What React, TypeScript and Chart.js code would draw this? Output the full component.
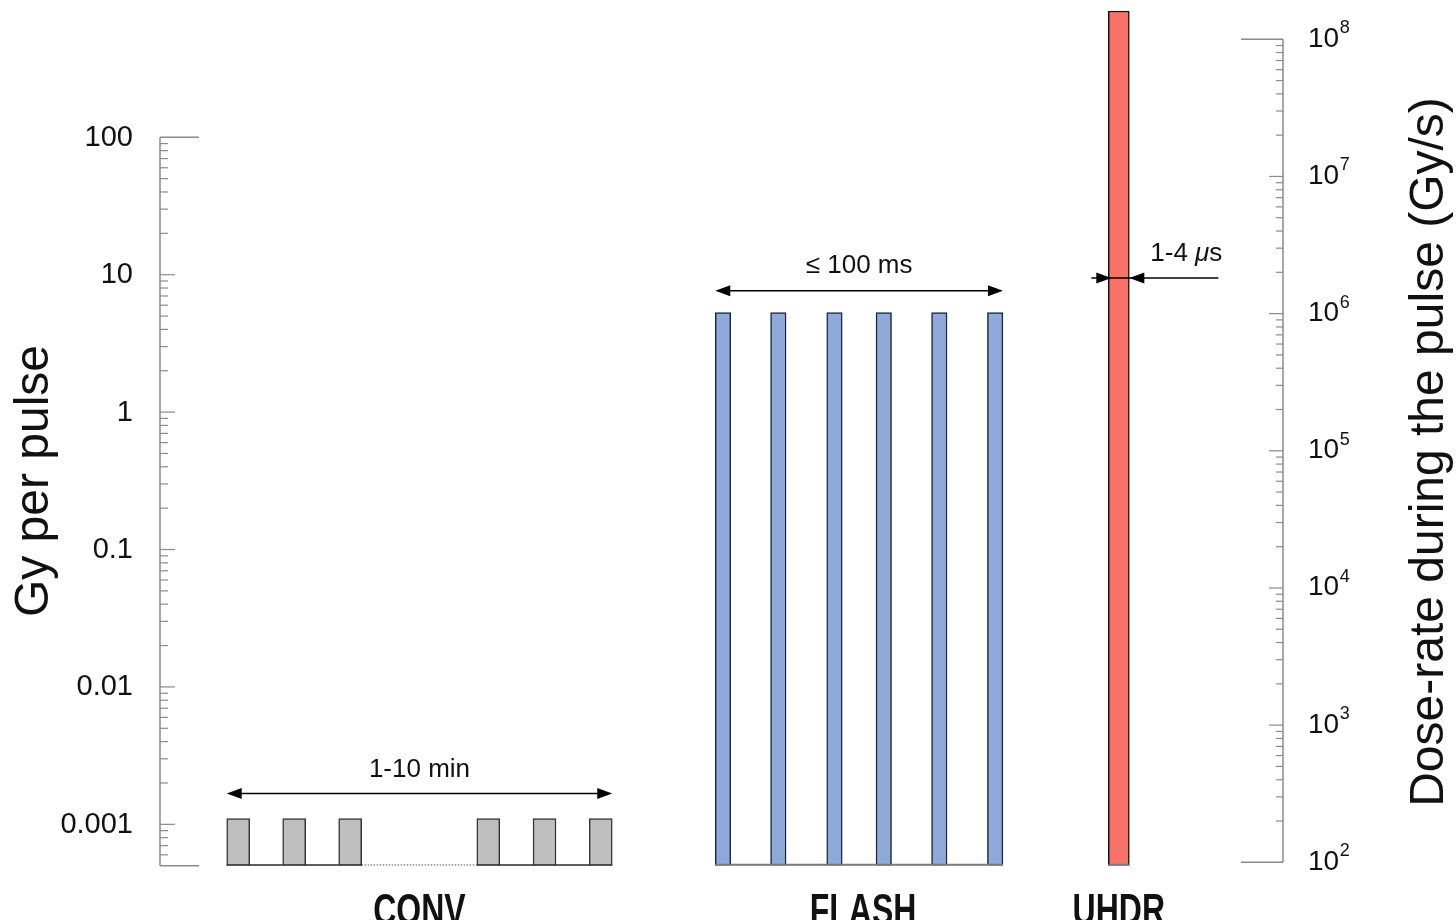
import React, { useEffect, useRef } from 'react';
import { Chart, registerables } from 'chart.js';

Chart.register(...registerables);

// ---- data ----
const categories = ['CONV', 'FLASH', 'UHDR'];
// pulse positions along the (schematic) time axis, in pulse-slot units
const convPositions = [1.393, 2.39, 3.387, 5.847, 6.848, 7.849];
const convDose = [0.0011, 0.0011, 0.0011, 0.0011, 0.0011, 0.0011];
const flashPositions = [10.027, 11.012, 12.012, 12.89, 13.879, 14.874];
const flashDose = [5.3, 5.3, 5.3, 5.3, 5.3, 5.3];
const uhdrPositions = [17.076];
const uhdrDose = [830];

// axes
const leftTickValues = [0.001, 0.01, 0.1, 1, 10, 100];
const leftTickLabels = ['0.001', '0.01', '0.1', '1', '10', '100'];
const rightTickExponents = [2, 3, 4, 5, 6, 7, 8];
const leftTitle = 'Gy per pulse';
const rightTitle = 'Dose-rate during the pulse (Gy/s)';

// annotations (duration spans)
const spanLabels = ['1-10 min', '≤ 100 ms'];
const spanArrowDose = [0.00168, 7.65];
const spanTextDose = [0.00222, 10.3];
const pulseWidthParts = ['1-4 ', 'μ', 's'];
const pulseWidthArrowDose = 9.46;
const pulseWidthTextDose = 12.5;

const FONT = '"Liberation Sans", Arial, Helvetica, sans-serif';

function line(ctx: CanvasRenderingContext2D, x1: number, y1: number, x2: number, y2: number) {
  ctx.beginPath();
  ctx.moveTo(x1, y1);
  ctx.lineTo(x2, y2);
  ctx.stroke();
}

function arrowHead(ctx: CanvasRenderingContext2D, tipX: number, y: number, dir: number) {
  // dir = -1 points left, +1 points right
  const len = 15;
  const half = 5.5;
  ctx.beginPath();
  ctx.moveTo(tipX, y);
  ctx.lineTo(tipX - dir * len, y - half);
  ctx.lineTo(tipX - dir * len, y + half);
  ctx.closePath();
  ctx.fill();
}

function groupExtent(chart: any, idx: number) {
  const bars = chart.getDatasetMeta(idx).data as any[];
  const first = bars[0];
  const last = bars[bars.length - 1];
  return {
    bars,
    left: first.x - first.width / 2,
    right: last.x + last.width / 2,
    base: first.base,
  };
}

const overlay = {
  id: 'overlay',
  afterDatasetsDraw(chart: any) {
    const ctx: CanvasRenderingContext2D = chart.ctx;
    const xs = chart.scales.x;
    const ys = chart.scales.y;
    const yr = chart.scales.y1;
    ctx.save();

    // ---- baselines under pulse trains ----
    const conv = groupExtent(chart, 0);
    const by = conv.base - 0.75;
    const spacings: number[] = [];
    for (let i = 1; i < conv.bars.length; i++) spacings.push(conv.bars[i].x - conv.bars[i - 1].x);
    const minSp = Math.min(...spacings);
    for (let i = 0; i < conv.bars.length; i++) {
      const b = conv.bars[i];
      ctx.strokeStyle = '#2a2a2a';
      ctx.lineWidth = 1.5;
      ctx.setLineDash([]);
      line(ctx, b.x - b.width / 2, by, b.x + b.width / 2, by);
      if (i < conv.bars.length - 1) {
        const n = conv.bars[i + 1];
        const x1 = b.x + b.width / 2;
        const x2 = n.x - n.width / 2;
        if (n.x - b.x > minSp * 1.5) {
          ctx.strokeStyle = '#555';
          ctx.lineWidth = 1;
          ctx.setLineDash([1.5, 1.5]);
        }
        line(ctx, x1, by, x2, by);
      }
    }
    ctx.setLineDash([]);
    for (const idx of [1, 2]) {
      const g = groupExtent(chart, idx);
      ctx.strokeStyle = '#7a7a7a';
      ctx.lineWidth = 2;
      line(ctx, g.left, g.base - 1, g.right, g.base - 1);
    }

    // ---- left axis ----
    const ax = xs.left;
    const lTop = ys.getPixelForValue(100);
    const lBot = ys.getPixelForValue(ys.min);
    ctx.strokeStyle = '#8a8a8a';
    ctx.lineWidth = 1.5;
    line(ctx, ax, lTop, ax, lBot);
    line(ctx, ax, lTop, ax + 39, lTop);
    line(ctx, ax, lBot, ax + 39, lBot);
    ctx.lineWidth = 1.2;
    for (let d = -4; d <= 1; d++) {
      for (let m = 1; m <= 9; m++) {
        const v = m * Math.pow(10, d);
        if (v <= ys.min * 1.0001 || v >= 100 * 0.9999) continue;
        const py = ys.getPixelForValue(v);
        line(ctx, ax, py, ax + (m === 1 ? 15 : 8), py);
      }
    }
    ctx.fillStyle = '#111';
    ctx.font = `29px ${FONT}`;
    ctx.textAlign = 'right';
    ctx.textBaseline = 'alphabetic';
    leftTickValues.forEach((v, i) => {
      ctx.fillText(leftTickLabels[i], ax - 27, ys.getPixelForValue(v) + 8.4);
    });

    // ---- right axis ----
    const rx = xs.right;
    const rTop = yr.getPixelForValue(Math.pow(10, rightTickExponents[rightTickExponents.length - 1]));
    const rBot = yr.getPixelForValue(Math.pow(10, rightTickExponents[0]));
    ctx.strokeStyle = '#8a8a8a';
    ctx.lineWidth = 1.5;
    line(ctx, rx, rTop, rx, rBot);
    line(ctx, rx, rTop, rx - 42, rTop);
    line(ctx, rx, rBot, rx - 42, rBot);
    ctx.lineWidth = 1.2;
    for (let d = rightTickExponents[0]; d < rightTickExponents[rightTickExponents.length - 1]; d++) {
      for (let m = 1; m <= 9; m++) {
        if (d === rightTickExponents[0] && m === 1) continue;
        const py = yr.getPixelForValue(m * Math.pow(10, d));
        line(ctx, rx, py, rx - (m === 1 ? 14 : 7), py);
      }
    }
    ctx.fillStyle = '#111';
    ctx.textAlign = 'left';
    rightTickExponents.forEach((e) => {
      const py = yr.getPixelForValue(Math.pow(10, e));
      ctx.font = `28px ${FONT}`;
      ctx.fillText('10', rx + 25, py + 7.4);
      const w = ctx.measureText('10').width;
      ctx.font = `18px ${FONT}`;
      ctx.fillText(String(e), rx + 25 + w + 0.5, py - 6);
    });

    // ---- axis titles ----
    ctx.font = `48px ${FONT}`;
    ctx.textAlign = 'center';
    ctx.textBaseline = 'alphabetic';
    ctx.save();
    ctx.translate(48, 481);
    ctx.rotate(-Math.PI / 2);
    ctx.fillText(leftTitle, 0, 0);
    ctx.restore();
    ctx.save();
    ctx.translate(1443, 452);
    ctx.rotate(-Math.PI / 2);
    ctx.fillText(rightTitle, 0, 0);
    ctx.restore();

    // ---- span arrows ----
    ctx.strokeStyle = '#000';
    ctx.fillStyle = '#000';
    [0, 1].forEach((gi) => {
      const g = groupExtent(chart, gi);
      const ay = ys.getPixelForValue(spanArrowDose[gi]);
      ctx.lineWidth = 1.5;
      line(ctx, g.left + 5, ay, g.right - 5, ay);
      arrowHead(ctx, g.left, ay, -1);
      arrowHead(ctx, g.right, ay, 1);
      ctx.font = `26px ${FONT}`;
      ctx.textAlign = 'center';
      ctx.fillStyle = '#111';
      ctx.fillText(spanLabels[gi], (g.left + g.right) / 2, ys.getPixelForValue(spanTextDose[gi]));
      ctx.fillStyle = '#000';
    });

    // ---- pulse width arrows on UHDR ----
    const u = groupExtent(chart, 2);
    const uy = ys.getPixelForValue(pulseWidthArrowDose);
    ctx.lineWidth = 1.5;
    line(ctx, u.left - 17, uy, u.right + 89, uy);
    arrowHead(ctx, u.left + 3, uy, 1);
    arrowHead(ctx, u.right, uy, -1);
    const ty = ys.getPixelForValue(pulseWidthTextDose);
    let tx = u.right + 21;
    ctx.textAlign = 'left';
    ctx.fillStyle = '#111';
    pulseWidthParts.forEach((p, i) => {
      ctx.font = i === 1 ? `italic 26px ${FONT}` : `26px ${FONT}`;
      ctx.fillText(p, tx, ty);
      tx += ctx.measureText(p).width;
    });

    // ---- category labels ----
    ctx.textAlign = 'center';
    ctx.font = `bold 32px ${FONT}`;
    categories.forEach((c, i) => {
      const g = groupExtent(chart, i);
      const cx = i === 1 ? (g.left + g.right) / 2 + 4 : (g.left + g.right) / 2;
      ctx.save();
      ctx.translate(cx, 893 + 0.716 * 32 * 1.4);
      ctx.scale(1, 1.4);
      ctx.fillText(c, 0, 0);
      ctx.restore();
    });

    ctx.restore();
  },
};

export default function App() {
  const ref = useRef<HTMLCanvasElement>(null);
  useEffect(() => {
    const toXY = (xs: number[], ys: number[]) => xs.map((x, i) => ({ x, y: ys[i] }));
    const common = {
      grouped: false,
      borderSkipped: 'start',
      clip: false,
      borderWidth: { top: 1.5, left: 1.5, right: 1.5, bottom: 0 },
    };
    const chart = new Chart(ref.current as HTMLCanvasElement, {
      type: 'bar',
      data: {
        datasets: [
          {
            ...common,
            label: categories[0],
            data: toXY(convPositions, convDose),
            backgroundColor: '#bfbfbf',
            borderColor: '#333333',
            barThickness: 23,
          },
          {
            ...common,
            label: categories[1],
            data: toXY(flashPositions, flashDose),
            backgroundColor: '#8eaadb',
            borderColor: '#1e2636',
            barThickness: 15.5,
          },
          {
            ...common,
            label: categories[2],
            data: toXY(uhdrPositions, uhdrDose),
            backgroundColor: '#f87268',
            borderColor: '#111111',
            barThickness: 21,
          },
        ] as any,
      },
      options: {
        animation: false,
        responsive: false,
        layout: { padding: { left: 160, right: 173, top: 11, bottom: 54.3 } },
        plugins: { legend: { display: false }, tooltip: { enabled: false } },
        scales: {
          x: { type: 'linear', min: 0, max: 20, offset: false, display: false },
          y: { type: 'logarithmic', min: 0.0005, max: 830, display: false, bounds: 'data' },
          y1: { type: 'logarithmic', position: 'right', min: 94.5, max: 1.607e8, display: false, bounds: 'data' },
        },
      } as any,
      plugins: [overlay],
    });
    return () => chart.destroy();
  }, []);
  return (
    <div style={{ position: 'absolute', left: 0, top: 0, width: 1456, height: 920, background: '#fff' }}>
      <canvas ref={ref} width={1456} height={920} style={{ display: 'block' }} />
    </div>
  );
}
